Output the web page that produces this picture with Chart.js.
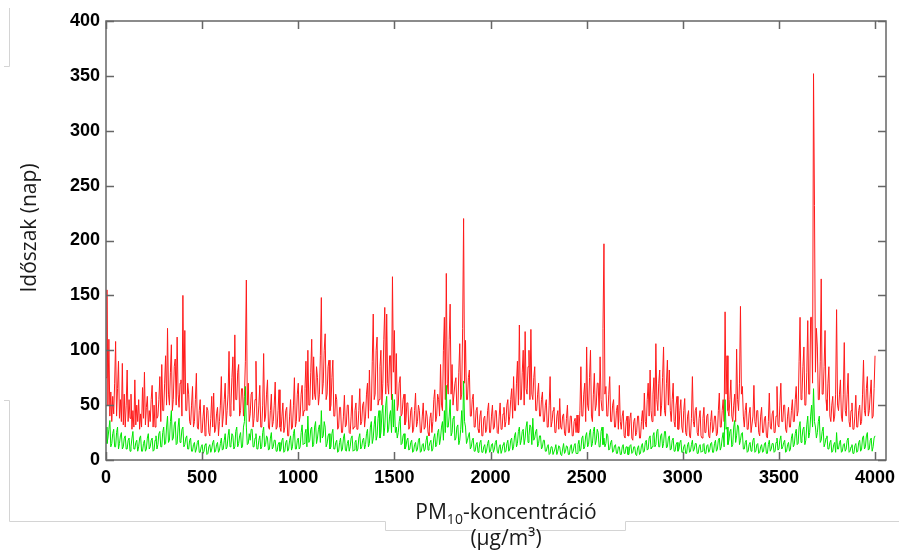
<!DOCTYPE html>
<html lang="hu">
<head>
    <meta charset="UTF-8">
    <title>PM10 időszakok</title>
    <script src="https://cdn.jsdelivr.net/npm/chart.js"></script>
    <style>
        body { margin: 0; background: #fff; }
        canvas { display: block; }
    </style>
</head>
<body>
    <canvas id="pmChart" width="899" height="550"></canvas>

    <script>
        // mintavételi lépés (nap) és tengelyosztások
        const STEP = 5;
        const xTicks = [0, 500, 1000, 1500, 2000, 2500, 3000, 3500, 4000];
        const yTicks = [0, 50, 100, 150, 200, 250, 300, 350, 400];

        // piros görbe, 5 naponként (soronként 250 nap)
        const redValues = [
            75,155,50,110,40,62,35,58,42,70, 108,40,65,90,38,55,35,88,32,60, 30,50,82,35,55,38,60,28,45,30, 73,32,50,35,55,28,42,30,66,38, 80,32,48,58,30,45,35,55,68,30,
            50,30,62,38,40,55,76,35,87,45, 45,70,95,50,120,60,50,80,105,45, 55,85,92,50,112,60,48,70,73,40, 150,60,118,45,45,70,60,35,32,50, 67,30,35,55,79,30,28,45,55,25,
            25,40,50,22,30,48,45,25,22,38, 58,30,61,25,28,42,48,22,35,50, 76,30,40,55,70,32,45,60,99,40, 50,75,94,45,114,55,55,80,87,40, 45,65,65,40,58,90,164,50,70,35,
            42,60,62,30,38,55,90,35,35,50, 68,30,30,50,97,35,40,60,73,30, 28,45,60,30,35,50,71,28,30,45, 64,30,26,40,52,25,30,45,48,22, 22,40,55,28,30,50,75,30,35,60,
            70,35,40,60,68,40,45,65,90,45, 100,50,50,80,110,55,94,60,55,85, 75,50,60,95,148,60,70,100,115,55, 60,85,91,45,50,75,91,40,40,60, 55,28,30,48,48,25,25,40,59,30,
            32,50,50,25,24,40,59,28,30,45, 52,28,28,45,65,32,35,50,53,30, 40,60,70,38,82,45,45,90,133,55, 60,100,112,50,55,85,100,50,70,110, 139,60,133,70,60,95,95,55,167,80,
            118,60,97,45,50,70,76,40,42,55, 60,32,35,52,52,28,30,45,48,25, 28,45,61,30,35,50,45,25,25,40, 52,28,30,45,40,25,22,38,43,25, 35,55,64,35,40,60,55,40,87,50,
            45,100,130,55,170,70,60,110,142,60, 87,50,50,70,75,45,45,80,106,55, 60,120,220,70,109,55,55,75,82,40, 40,55,60,30,30,45,48,28,25,40, 45,22,22,38,40,25,28,45,52,25,
            25,40,50,28,30,45,45,25,24,40, 52,28,28,42,48,30,35,50,55,32, 40,55,65,38,76,45,45,70,90,50, 123,55,55,80,100,50,117,65,60,85, 100,55,119,60,55,75,85,45,45,60,
            70,40,40,55,62,35,35,50,55,30, 30,50,76,30,35,45,48,25,25,40, 45,28,56,30,28,40,42,24,22,38, 50,25,25,40,40,22,22,35,38,25, 41,25,25,45,85,40,40,60,70,35,
            103,50,45,75,100,40,35,60,79,45, 50,70,70,40,94,55,45,120,197,60, 67,40,40,60,76,35,35,50,55,30, 30,45,50,28,68,35,28,40,45,22, 20,35,40,22,22,38,43,20,18,35,
            38,22,25,40,40,20,20,35,45,28, 61,35,30,55,70,40,82,45,35,60, 75,40,106,55,45,70,82,40,50,75, 103,45,40,70,91,50,82,45,35,55, 70,35,30,50,58,28,28,45,55,30,
            25,45,56,25,22,40,45,22,20,38, 76,35,30,45,48,25,22,38,45,22, 20,38,48,25,25,40,42,22,20,35, 45,25,28,40,40,22,24,45,61,30, 30,45,55,35,135,60,95,45,40,55,
            73,40,35,50,60,35,101,55,45,70, 140,60,67,40,30,45,52,28,28,42, 48,25,25,40,68,35,30,45,45,25, 22,40,48,25,25,38,40,22,20,35, 61,30,28,42,45,25,25,40,67,32,
            30,50,70,35,35,50,50,28,25,40, 48,30,30,45,55,35,35,55,67,40, 45,90,130,55,60,85,103,50,50,80, 127,60,60,130,130,70,352,232,80,120, 103,55,55,90,165,60,60,85,118,55,
            45,70,85,40,35,50,58,35,40,60, 137,50,45,60,73,40,35,60,107,45, 40,60,79,35,30,45,52,28,28,40, 59,30,30,45,50,32,35,60,91,45, 40,65,76,40,45,60,73,38,40,65,
            95
        ];

        // zöld görbe, 5 naponként
        const greenValues = [
            30,15,20,28,36,12,15,24,28,12, 12,25,30,10,15,22,25,10,12,20, 22,10,10,18,20,8,12,20,26,10, 10,16,18,8,12,20,22,8,8,15, 18,8,10,20,24,10,12,18,20,8,
            9,18,22,10,14,24,26,12,12,25, 30,14,15,30,40,16,18,35,45,18, 20,32,35,14,15,30,38,16,18,28, 30,12,14,20,22,10,10,18,20,8, 8,14,16,7,10,16,18,7,7,12,
            14,6,8,14,15,5,6,12,14,7, 10,16,18,7,8,14,16,7,9,15, 20,9,10,18,24,10,12,22,28,12, 14,24,22,10,12,26,30,12,15,22, 25,11,12,30,35,67,30,14,15,24,
            18,28,28,12,12,20,24,10,10,18, 22,10,12,25,30,12,14,22,20,9, 10,20,25,10,12,18,18,8,8,14, 16,8,10,18,20,7,8,16,18,8, 10,18,22,9,12,24,28,10,10,18,
            20,10,12,25,32,14,15,24,28,12, 40,16,18,28,30,12,14,30,35,15, 20,28,32,16,45,20,22,35,30,12, 15,22,24,10,12,24,28,10,10,16, 18,7,8,16,20,8,10,20,24,9,
            8,15,18,8,12,20,22,8,9,16, 18,8,10,20,24,10,12,18,20,10, 14,24,28,12,15,30,35,15,20,32, 40,18,22,38,45,20,25,42,50,22, 30,50,58,25,28,40,45,25,60,30,
            55,25,30,20,25,35,40,14,15,22, 24,10,12,18,20,9,10,16,18,7, 8,14,16,8,10,18,20,7,8,14, 15,8,10,18,22,9,12,16,18,8, 10,20,24,12,14,25,28,14,20,30,
            35,18,45,25,68,30,30,40,55,22, 25,38,40,18,20,30,32,14,18,28, 45,25,72,35,30,15,18,22,25,10, 12,18,20,8,8,14,16,7,10,16, 18,7,7,12,14,6,9,15,18,7,
            8,14,15,7,10,16,18,8,6,12, 14,6,9,14,16,7,8,15,18,8, 10,18,20,9,12,22,25,12,15,26, 30,14,18,26,28,14,20,30,35,16, 22,32,30,14,38,18,20,26,28,12,
            15,22,22,10,12,18,18,8,8,12, 14,5,6,12,12,5,5,10,14,5, 8,13,12,5,4,10,15,6,8,13, 12,5,5,12,14,6,8,13,15,6, 6,14,18,8,10,20,22,10,12,22,
            25,12,14,25,28,12,15,26,30,14, 18,28,25,12,12,26,30,14,20,12, 15,24,22,9,10,16,18,7,8,13, 14,6,6,12,12,5,5,12,14,6, 6,12,12,5,5,13,14,6,7,12,
            12,5,4,11,13,5,6,13,15,7, 8,16,18,9,10,20,22,10,12,22, 25,12,14,26,28,12,12,22,24,11, 15,26,26,11,12,20,22,9,10,18, 20,8,8,14,16,8,10,16,18,7,
            7,12,14,6,6,14,16,7,8,14, 18,8,10,15,15,6,6,12,14,7, 8,14,15,6,6,13,14,7,9,15, 16,7,7,15,18,8,10,18,20,9, 12,20,25,12,55,28,30,14,18,26,
            28,12,14,30,36,16,22,32,30,14, 18,24,25,10,10,16,18,7,8,14, 16,8,10,18,20,7,8,14,15,6, 7,12,14,7,8,15,16,6,6,14, 18,8,10,15,15,7,8,16,20,9,
            10,18,22,10,12,16,18,7,8,14, 16,8,10,20,24,12,14,24,28,14, 15,30,35,16,20,28,30,14,18,32, 40,20,25,40,50,30,65,35,30,20, 25,35,40,16,18,26,30,12,15,20,
            22,10,10,16,18,7,8,14,16,7, 25,10,10,16,18,7,8,14,15,8, 10,18,20,7,8,12,14,6,6,13, 15,7,8,16,18,8,10,20,22,10, 12,22,25,9,10,18,20,8,12,20,
            22
        ];

        const toPoints = values => values.map((v, i) => ({ x: i * STEP, y: v }));

        const tickFont = { family: 'Liberation Sans, Arial, sans-serif', size: 18, weight: 'bold' };
        const titleFont = '21px "Open Sans", sans-serif';
        const subFont = '14px "Open Sans", sans-serif';

        // MATLAB-szerű keret, befelé álló osztásjelek, tengelyfeliratok
        const framePlugin = {
            id: 'frame',
            afterDraw(chart) {
                const { ctx, chartArea: a, scales } = chart;
                ctx.save();

                // halvány vonalak a dia hátteréből
                ctx.strokeStyle = '#d4d4d4';
                ctx.lineWidth = 1;
                ctx.beginPath();
                ctx.moveTo(9.5, 8); ctx.lineTo(9.5, 66.5); ctx.lineTo(4, 66.5);
                ctx.moveTo(4, 400.5); ctx.lineTo(9.5, 400.5); ctx.lineTo(9.5, 521.5);
                ctx.lineTo(385.5, 521.5); ctx.lineTo(385.5, 530.5); ctx.lineTo(625.5, 530.5);
                ctx.lineTo(625.5, 521.5); ctx.lineTo(899, 521.5);
                ctx.stroke();

                // keret
                ctx.strokeStyle = '#666';
                ctx.lineWidth = 1.5;
                ctx.strokeRect(a.left, a.top, a.right - a.left, a.bottom - a.top);

                // osztásjelek mind a négy oldalon
                const len = 8;
                ctx.beginPath();
                xTicks.forEach(v => {
                    const px = Math.round(scales.x.getPixelForValue(v)) + 0.5;
                    ctx.moveTo(px, a.bottom); ctx.lineTo(px, a.bottom - len);
                    ctx.moveTo(px, a.top); ctx.lineTo(px, a.top + len);
                });
                yTicks.forEach(v => {
                    const py = Math.round(scales.y.getPixelForValue(v)) + 0.5;
                    ctx.moveTo(a.left, py); ctx.lineTo(a.left + len, py);
                    ctx.moveTo(a.right, py); ctx.lineTo(a.right - len, py);
                });
                ctx.stroke();

                // y tengely címe
                ctx.fillStyle = '#1a1a1a';
                ctx.font = titleFont;
                ctx.textAlign = 'center';
                ctx.textBaseline = 'middle';
                ctx.save();
                ctx.translate(30, 228);
                ctx.rotate(-Math.PI / 2);
                ctx.fillText('Időszak (nap)', 0, 0);
                ctx.restore();

                // x tengely címe: PM10 alsó indexszel
                const cx = 506;
                const base1 = 519;
                const partA = 'PM', partSub = '10', partB = '-koncentráció';
                ctx.textBaseline = 'alphabetic';
                ctx.textAlign = 'left';
                ctx.font = titleFont;
                const wA = ctx.measureText(partA).width;
                const wB = ctx.measureText(partB).width;
                ctx.font = subFont;
                const wS = ctx.measureText(partSub).width;
                const x0 = cx - (wA + wS + wB) / 2;
                ctx.font = titleFont;
                ctx.fillText(partA, x0, base1);
                ctx.font = subFont;
                ctx.fillText(partSub, x0 + wA, base1 + 5);
                ctx.font = titleFont;
                ctx.fillText(partB, x0 + wA + wS, base1);

                ctx.textAlign = 'center';
                ctx.fillText('(µg/m³)', cx, 545);

                ctx.restore();
            }
        };

        const ctx = document.getElementById('pmChart').getContext('2d');
        const pmChart = new Chart(ctx, {
            type: 'line',
            data: {
                datasets: [
                    {
                        label: 'zöld',
                        data: toPoints(greenValues),
                        borderColor: '#00e600',
                        borderWidth: 1,
                        pointRadius: 0,
                        tension: 0
                    },
                    {
                        label: 'piros',
                        data: toPoints(redValues),
                        borderColor: '#ff1a1a',
                        borderWidth: 1,
                        pointRadius: 0,
                        tension: 0
                    }
                ]
            },
            options: {
                responsive: false,
                animation: false,
                layout: { padding: { top: 21, right: 13, left: 0, bottom: 0 } },
                plugins: {
                    legend: { display: false },
                    tooltip: { enabled: false }
                },
                scales: {
                    x: {
                        type: 'linear',
                        min: 0,
                        max: 4057,
                        afterBuildTicks: axis => { axis.ticks = xTicks.map(v => ({ value: v })); },
                        afterFit: axis => {
                            axis.height = 90;
                            axis.paddingLeft = 0;
                            axis.paddingRight = 0;
                        },
                        grid: { display: false, drawTicks: false },
                        border: { display: false },
                        ticks: { font: tickFont, color: '#000', padding: 7, maxRotation: 0, callback: v => String(v) }
                    },
                    y: {
                        min: 0,
                        max: 400,
                        afterBuildTicks: axis => { axis.ticks = yTicks.map(v => ({ value: v })); },
                        afterFit: axis => {
                            axis.width = 106;
                            axis.paddingTop = 0;
                            axis.paddingBottom = 0;
                        },
                        grid: { display: false, drawTicks: false },
                        border: { display: false },
                        ticks: { font: tickFont, color: '#000', padding: 6, callback: v => String(v) }
                    }
                }
            },
            plugins: [framePlugin]
        });
    </script>
</body>
</html>
